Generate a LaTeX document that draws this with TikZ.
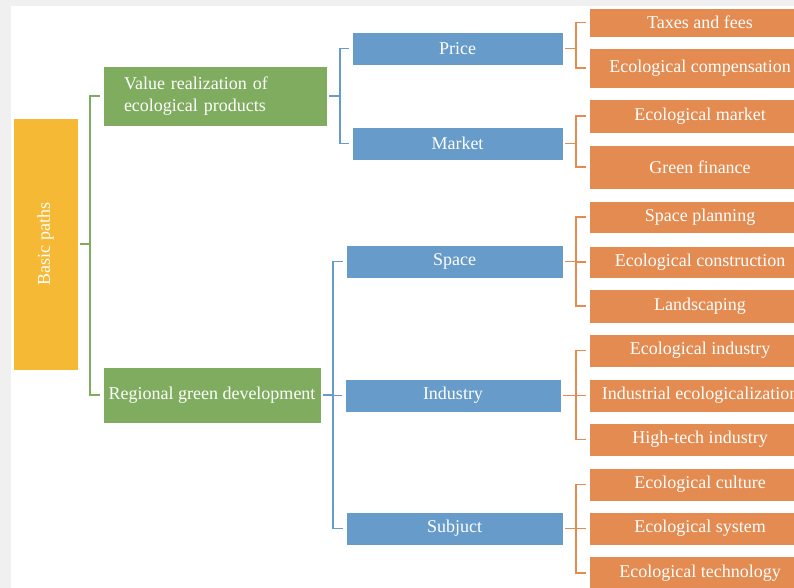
\documentclass[tikz,border=0pt]{standalone}
\usepackage{fontspec}
\setmainfont{Liberation Serif}
\usetikzlibrary{positioning}
\definecolor{pathyellow}{HTML}{F5B935}
\definecolor{pathgreen}{HTML}{7FAC5F}
\definecolor{pathblue}{HTML}{679BC9}
\definecolor{pathorange}{HTML}{E38B51}
\definecolor{pagegray}{HTML}{F0F0F0}
\tikzset{
	tree/.style={x=0.75pt,y=-0.75pt},
	box/.style={inner sep=0pt,text=white,font=\fontsize{13.5}{16}\selectfont,
		draw=white,line width=0.4pt},
	rootbox/.style={box,fill=pathyellow,minimum width=48.75pt,minimum height=189pt},
	valuebox/.style={box,fill=pathgreen,minimum height=42pt},
	waybox/.style={box,fill=pathblue,minimum height=24.75pt},
	itembox/.style={box,fill=pathorange,minimum width=166.5pt,minimum height=24.75pt},
	branch/.style={line width=1.4pt,shorten <=1.5pt,shorten >=2pt},
	greenline/.style={branch,draw=pathgreen},
	blueline/.style={branch,draw=pathblue},
	orangeline/.style={branch,draw=pathorange}
}

\begin{document}
\begin{tikzpicture}[tree]
	
	\clip (0,0) rectangle (794,588);
	\fill[pagegray] (0,0) rectangle (794,588);
	\fill[white] (11,6) rectangle (794,588);
	
	\node[rootbox] (basic) at (45.5,244) {\rotatebox{90}{Basic paths}};
	
	\node[valuebox,minimum height=45pt,text width=136.5pt,inner xsep=15.75pt,align=left]
		(value) at (215,96) {Value realization of\\ecological products};
	\node[valuebox,minimum width=163.5pt] (region) at (212,395) {Regional green development};
	
	\node[waybox,minimum width=158.25pt] (price) at (457.5,48.5) {Price};
	\node[waybox,minimum width=158.25pt] (market) at (457.5,143.5) {Market};
	\node[waybox,minimum width=162.75pt] (space) at (454.5,261.5) {Space};
	\node[waybox,minimum width=162pt] (industry) at (453,395.5) {Industry};
	\node[waybox,minimum width=162.75pt] (subject) at (454.5,528.5) {Subjuct};
	
	\node[itembox,minimum height=21.75pt] (taxes) at (700,22.5) {Taxes and fees};
	\node[itembox,minimum height=30pt] (compensation) at (700,68) {Ecological compensation};
	\node[itembox,minimum height=25.5pt] (emarket) at (700,116) {Ecological market};
	\node[itembox,minimum height=33pt] (finance) at (700,167) {Green finance};
	\node[itembox,minimum height=24pt] (planning) at (700,217) {Space planning};
	\node[itembox,minimum height=24pt] (construction) at (700,262) {Ecological construction};
	\node[itembox,minimum height=25.5pt] (landscaping) at (700,306) {Landscaping};
	\node[itembox] (eindustry) at (700,350.5) {Ecological industry};
	\node[itembox] (indeco) at (700,395.5) {Industrial ecologicalization};
	\node[itembox] (hightech) at (700,439.5) {High-tech industry};
	\node[itembox] (culture) at (700,484.5) {Ecological culture};
	\node[itembox] (esystem) at (700,528.5) {Ecological system};
	\node[itembox,minimum height=25.5pt] (technology) at (700,573) {Ecological technology};
	
	\draw[greenline] (basic.east) -- ++(12,0) |- (value.west);
	\draw[greenline] (basic.east) -- ++(12,0) |- (region.west);
	
	\draw[blueline] (value.east) -- ++(13,0) |- (price.west);
	\draw[blueline] (value.east) -- ++(13,0) |- (market.west);
	\draw[blueline] (region.east) -- ++(12,0) |- (space.west);
	\draw[blueline] (region.east) -- ++(12,0) |- (industry.west);
	\draw[blueline] (region.east) -- ++(12,0) |- (subject.west);
	
	\draw[orangeline] (price.east) -- ++(13,0) |- (taxes.west);
	\draw[orangeline] (price.east) -- ++(13,0) |- (compensation.west);
	\draw[orangeline] (market.east) -- ++(13,0) |- (emarket.west);
	\draw[orangeline] (market.east) -- ++(13,0) |- (finance.west);
	\draw[orangeline] (space.east) -- ++(13,0) |- (planning.west);
	\draw[orangeline] (space.east) -- ++(13,0) |- (construction.west);
	\draw[orangeline] (space.east) -- ++(13,0) |- (landscaping.west);
	\draw[orangeline] (industry.east) -- ++(15,0) |- (eindustry.west);
	\draw[orangeline] (industry.east) -- ++(15,0) |- (indeco.west);
	\draw[orangeline] (industry.east) -- ++(15,0) |- (hightech.west);
	\draw[orangeline] (subject.east) -- ++(13,0) |- (culture.west);
	\draw[orangeline] (subject.east) -- ++(13,0) |- (esystem.west);
	\draw[orangeline] (subject.east) -- ++(13,0) |- (technology.west);
	
\end{tikzpicture}
\end{document}
